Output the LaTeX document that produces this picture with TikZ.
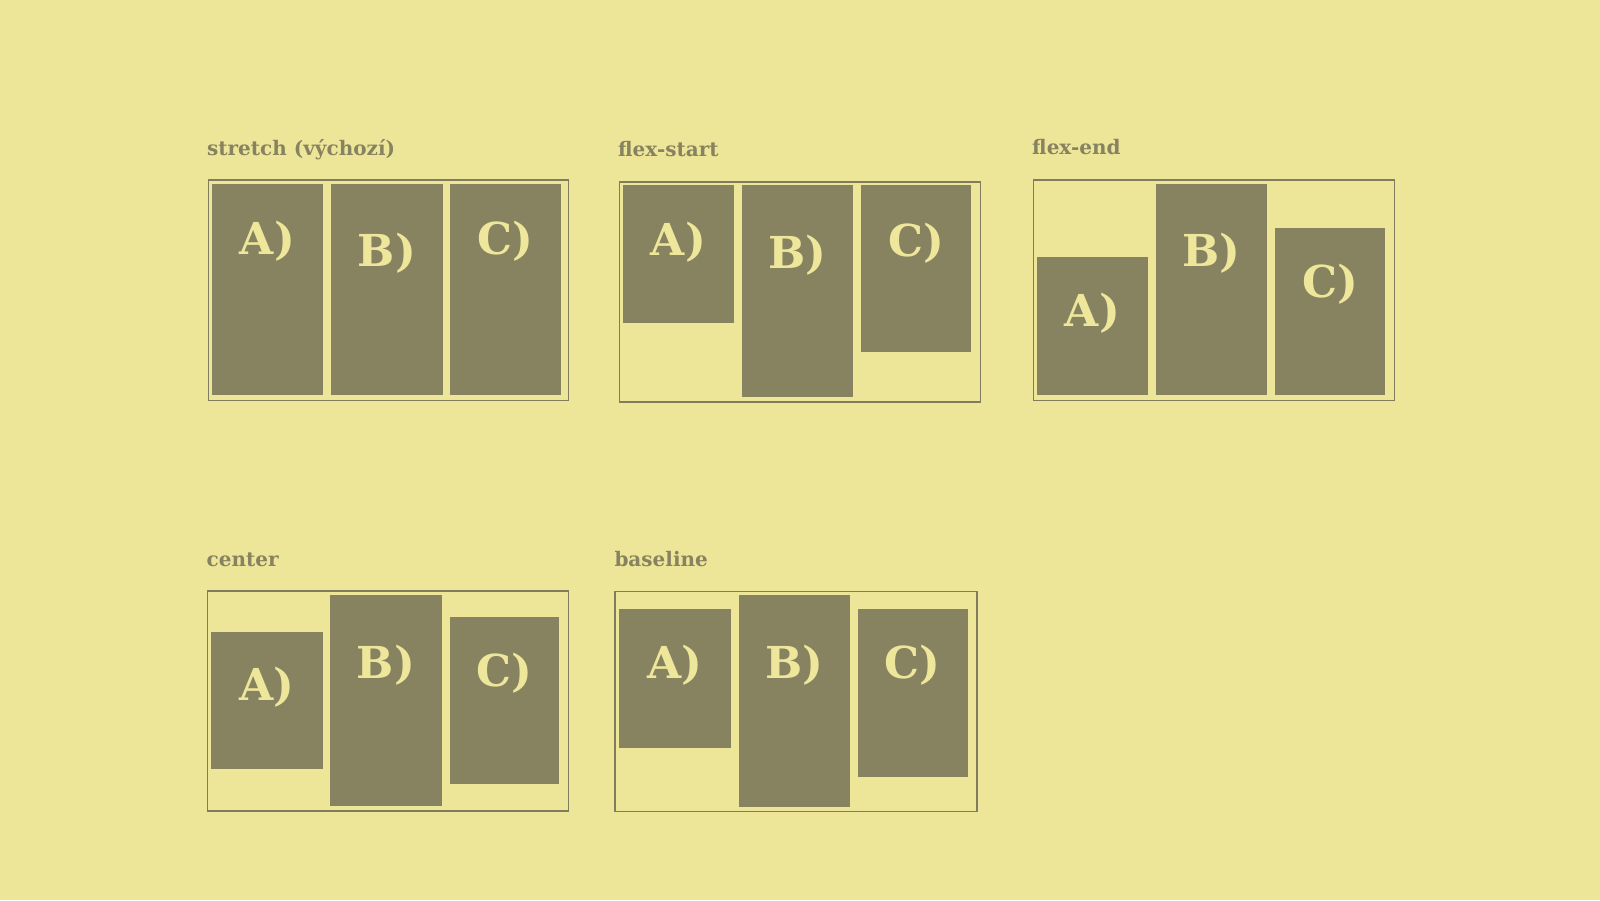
\documentclass[tikz,border=0pt]{standalone}
\usepackage{fontspec}
\setmainfont{DejaVu Serif}
\newfontfamily\heavyfont{DejaVu Serif Bold}
\definecolor{bgc}{RGB}{237,230,152}
\definecolor{itemc}{RGB}{135,130,96}
\definecolor{framec}{RGB}{128,124,94}
\definecolor{lblc}{RGB}{238,231,155}
\tikzset{
  framebox/.style={draw=framec, line width=1.6pt, fill=none, inner sep=0pt, anchor=north west},
  itembox/.style={fill=itemc, draw=none, inner sep=0pt, anchor=north west},
  lbl/.style={text=lblc, font=\heavyfont\fontsize{44}{44}\selectfont, inner sep=0pt, anchor=base},
  ttl/.style={text=itemc, font=\heavyfont\fontsize{20}{20}\selectfont, inner sep=0pt, anchor=base west}
}
% #1 name, #2 x1, #3 y1, #4 x2, #5 y2, #6 label, #7 baseline offset
\newcommand\fitem[7]{%
  \node[itembox, minimum width={(#4-#2)*1pt}, minimum height={(#5-#3)*1pt}] (#1) at (#2,#3) {};
  \node[lbl] (#1l) at ([yshift=-#7pt]#1.north) {#6};
}
\newcommand\fframe[5]{%
  \node[framebox, minimum width={(#4-#2)*1pt}, minimum height={(#5-#3)*1pt}] (#1) at (#2,#3) {};
}
\begin{document}
\begin{tikzpicture}[x=1pt,y=-1pt]
\fill[bgc] (0,0) rectangle (1600,900);
\useasboundingbox (0,0) rectangle (1600,900);

% Panel 1: stretch
\node[ttl] (t1) at (207,155) {stretch (výchozí)};
\fframe{f1}{207.5}{179}{567.5}{399.5}
\fitem{p1a}{211.5}{183.5}{323}{395}{A)}{71}
\fitem{p1b}{331}{183.5}{442.5}{395}{B)}{83}
\fitem{p1c}{450}{183.5}{560.5}{395}{C)}{71}

% Panel 2: flex-start
\node[ttl] (t2) at (618,156.5) {flex-start};
\fframe{f2}{618.5}{181}{979.5}{401}
\fitem{p2a}{622.5}{185}{734}{322.7}{A)}{70}
\fitem{p2b}{742}{185}{853}{396.5}{B)}{83}
\fitem{p2c}{861}{185}{971}{352}{C)}{71}

% Panel 3: flex-end
\node[ttl] (t3) at (1032,154.5) {flex-end};
\fframe{f3}{1032.5}{179}{1393.5}{399.5}
\fitem{p3a}{1036.5}{256.7}{1148}{395}{A)}{70}
\fitem{p3b}{1156}{183.3}{1267}{395}{B)}{83}
\fitem{p3c}{1275}{227.3}{1385}{395}{C)}{70}

% Panel 4: center
\node[ttl] (t4) at (206.5,566.7) {center};
\fframe{f4}{206.7}{590}{567.7}{810}
\fitem{p4a}{211}{631.7}{322.3}{769}{A)}{69}
\fitem{p4b}{330}{595}{441.5}{805.7}{B)}{83}
\fitem{p4c}{449.3}{616.7}{559}{784}{C)}{70}

% Panel 5: baseline
\node[ttl] (t5) at (614.3,566.7) {baseline};
\fframe{f5}{614.3}{590.7}{976}{810.7}
\fitem{p5a}{619}{609}{730.5}{747.3}{A)}{69.3}
\fitem{p5b}{738.3}{595}{850}{806.7}{B)}{83.3}
\fitem{p5c}{857.7}{609}{967.3}{776.7}{C)}{69.3}
\end{tikzpicture}
\end{document}
